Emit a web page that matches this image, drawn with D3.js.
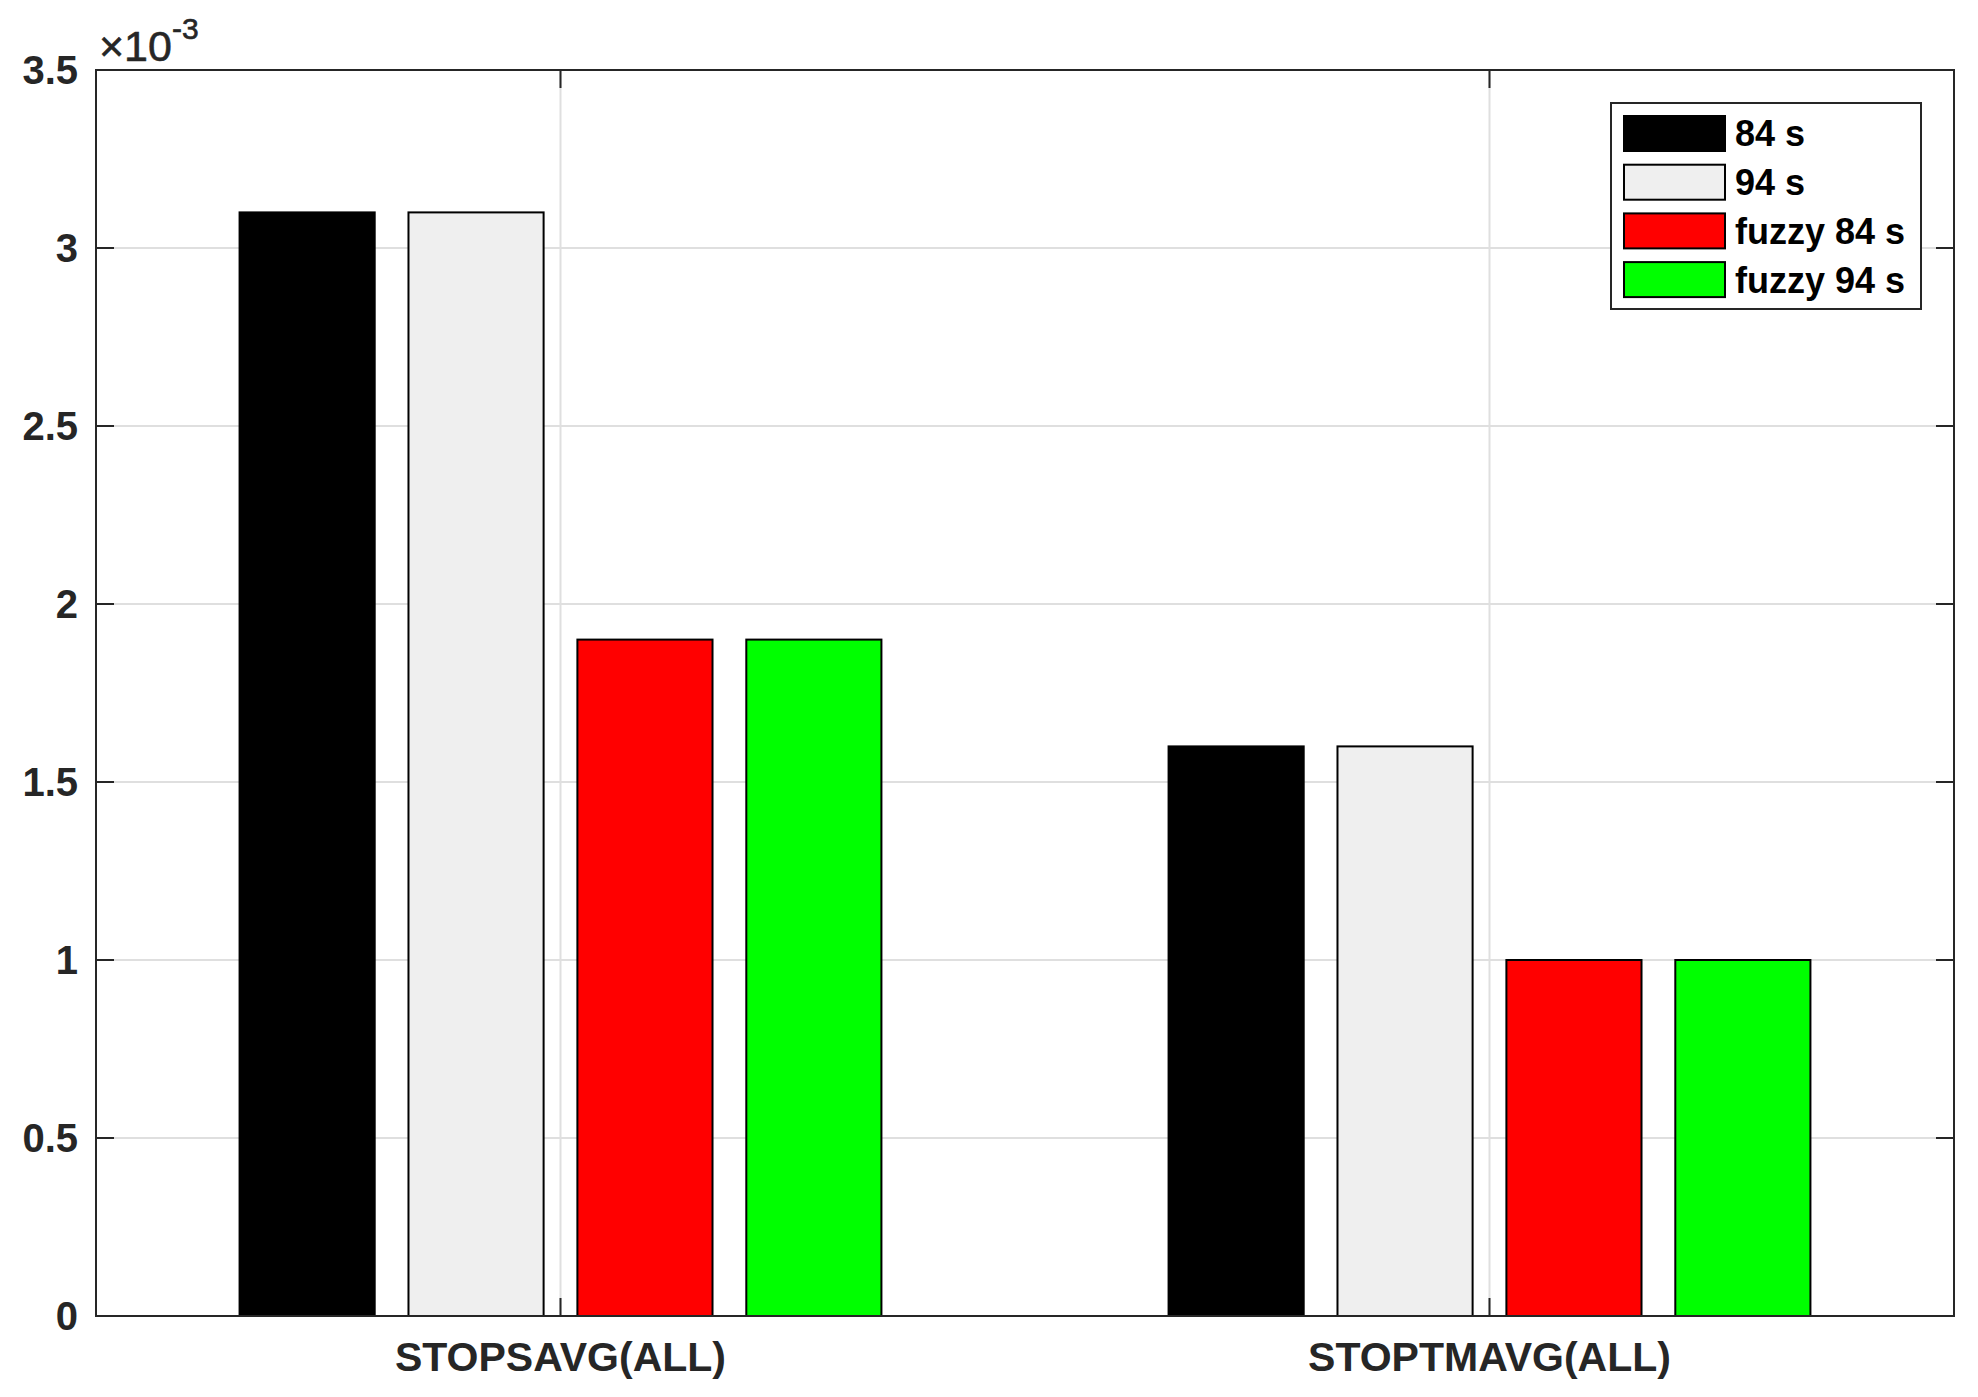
<!DOCTYPE html>
<html>
<head>
<meta charset="utf-8">
<script src="https://cdn.jsdelivr.net/npm/d3@7"></script>
<style>
html,body{margin:0;padding:0;background:#fff;}
svg{display:block;font-family:"Liberation Sans",Arial,Helvetica,sans-serif;}
</style>
</head>
<body>
<svg id="chart" width="1978" height="1397"></svg>
<script>
// ---- data ----
const categories = ["STOPSAVG(ALL)", "STOPTMAVG(ALL)"];
const seriesNames = ["84 s", "94 s", "fuzzy 84 s", "fuzzy 94 s"];
const seriesColors = ["#000000", "#efefef", "#ff0000", "#00ff00"];
const values84 = [3.1e-3, 1.6e-3];
const values94 = [3.1e-3, 1.6e-3];
const valuesFuzzy84 = [1.9e-3, 1.0e-3];
const valuesFuzzy94 = [1.9e-3, 1.0e-3];
const yTickValues = [0, 0.5e-3, 1e-3, 1.5e-3, 2e-3, 2.5e-3, 3e-3, 3.5e-3];
const yTickLabels = ["0", "0.5", "1", "1.5", "2", "2.5", "3", "3.5"];

const seriesValues = [values84, values94, valuesFuzzy84, valuesFuzzy94];

// ---- layout ----
const L = 96, R = 1954, T = 70, B = 1316;
const axisColor = "#262626";
const gridColor = "#dfdfdf";

const svg = d3.select("#chart");
svg.append("rect").attr("width", 1978).attr("height", 1397).attr("fill", "#fff");

const x = d3.scaleLinear().domain([0.5, categories.length + 0.5]).range([L, R]);
const y = d3.scaleLinear().domain([0, 3.5e-3]).range([B, T]);

const nS = seriesNames.length;
const groupWidth = Math.min(0.8, nS / (nS + 1.5));
const step = groupWidth / nS;
const barW = step * 0.8;

// grid
const g = svg.append("g");
g.selectAll("line.hg").data(yTickValues.slice(1, -1)).join("line")
  .attr("x1", L).attr("x2", R)
  .attr("y1", d => y(d)).attr("y2", d => y(d))
  .attr("stroke", gridColor).attr("stroke-width", 2);
g.selectAll("line.vg").data(categories.map((c, i) => i + 1)).join("line")
  .attr("x1", d => x(d)).attr("x2", d => x(d))
  .attr("y1", T).attr("y2", B)
  .attr("stroke", gridColor).attr("stroke-width", 2);

// bars
const barData = [];
seriesValues.forEach((vals, s) => {
  vals.forEach((v, c) => {
    barData.push({ s, c, v, xc: (c + 1) + (s - (nS - 1) / 2) * step });
  });
});
svg.append("g").selectAll("rect").data(barData).join("rect")
  .attr("x", d => x(d.xc - barW / 2))
  .attr("width", d => x(d.xc + barW / 2) - x(d.xc - barW / 2))
  .attr("y", d => y(d.v))
  .attr("height", d => y(0) - y(d.v))
  .attr("fill", d => seriesColors[d.s])
  .attr("stroke", "#000").attr("stroke-width", 2);

// axes box
svg.append("rect").attr("x", L).attr("y", T).attr("width", R - L).attr("height", B - T)
  .attr("fill", "none").attr("stroke", axisColor).attr("stroke-width", 2);

// ticks
const tickLen = 18;
const tg = svg.append("g").attr("stroke", axisColor).attr("stroke-width", 2);
yTickValues.forEach(v => {
  tg.append("line").attr("x1", L).attr("x2", L + tickLen).attr("y1", y(v)).attr("y2", y(v));
  tg.append("line").attr("x1", R).attr("x2", R - tickLen).attr("y1", y(v)).attr("y2", y(v));
});
categories.forEach((c, i) => {
  tg.append("line").attr("x1", x(i + 1)).attr("x2", x(i + 1)).attr("y1", B).attr("y2", B - tickLen);
  tg.append("line").attr("x1", x(i + 1)).attr("x2", x(i + 1)).attr("y1", T).attr("y2", T + tickLen);
});

// y tick labels
svg.append("g").selectAll("text").data(yTickValues).join("text")
  .attr("x", L - 18).attr("y", d => y(d))
  .attr("dy", "0.36em")
  .attr("text-anchor", "end")
  .attr("font-size", 40).attr("font-weight", "bold")
  .attr("fill", axisColor)
  .text((d, i) => yTickLabels[i]);

// exponent label
const ex = svg.append("text").attr("x", 99).attr("y", 61)
  .attr("font-size", 43).attr("fill", axisColor).attr("stroke", axisColor).attr("stroke-width", 0.6);
ex.append("tspan").text("×10");
ex.append("tspan").attr("font-size", 30).attr("dy", -22).text("-3");

// x category labels
svg.append("g").selectAll("text").data(categories).join("text")
  .attr("x", (d, i) => x(i + 1)).attr("y", 1371)
  .attr("text-anchor", "middle")
  .attr("font-size", 41).attr("font-weight", "bold")
  .attr("fill", axisColor)
  .text(d => d);

// legend
const lg = svg.append("g");
lg.append("rect").attr("x", 1611).attr("y", 103).attr("width", 310).attr("height", 206)
  .attr("fill", "#fff").attr("stroke", axisColor).attr("stroke-width", 2);
seriesNames.forEach((name, i) => {
  const cy = 133.5 + i * 48.7;
  lg.append("rect").attr("x", 1624).attr("y", cy - 17.5).attr("width", 101).attr("height", 35)
    .attr("fill", seriesColors[i]).attr("stroke", "#000").attr("stroke-width", 2);
  lg.append("text").attr("x", 1735).attr("y", cy).attr("dy", "0.36em")
    .attr("font-size", 36).attr("font-weight", "bold").attr("fill", "#000")
    .text(name);
});
</script>
</body>
</html>
